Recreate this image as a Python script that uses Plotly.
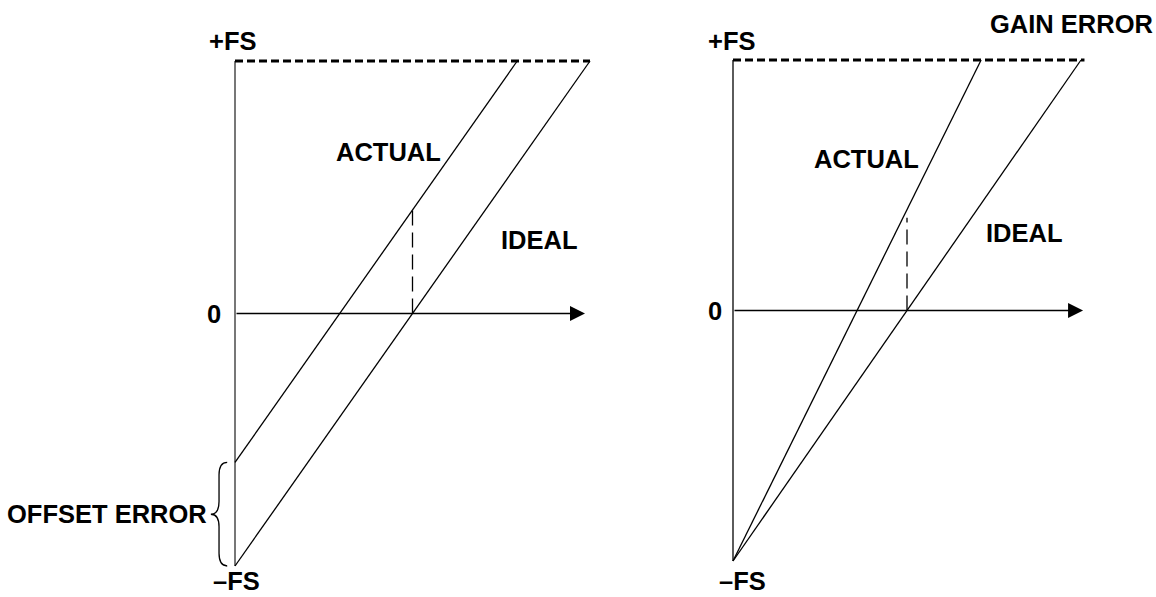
import plotly.graph_objects as go

# ---- data (output in units of full scale, input code normalised 0..1) ----
ideal_code = [0.0, 1.0]
ideal_out = [-1.0, 1.0]

offset_actual_code = [0.0, 0.795]
offset_actual_out = [-0.59, 1.0]

gain_actual_code = [0.0, 0.713]
gain_actual_out = [-1.0, 1.0]

midscale_code = [0.5, 0.5]
offset_marker_out = [0.0, 0.41]
gain_marker_out = [0.0, 0.37]

fs_out = [-1.0, 1.0]
left_top_code = [0.0, 1.0]
right_top_code = [0.0, 1.01]
left_arrow_end = 0.986
right_arrow_end = 1.006

W, H = 1156, 597
split = 620 / W

fig = go.Figure()

def line(x, y, xa, ya, width=1.3, color="black", dash=None):
    fig.add_trace(go.Scatter(x=x, y=y, mode="lines", xaxis=xa, yaxis=ya,
                             line=dict(color=color, width=width, dash=dash),
                             hoverinfo="skip", showlegend=False))

# left panel (offset error)
line([0, 0], fs_out, "x", "y", width=1.6, color="#555")
line(left_top_code, [1, 1], "x", "y", width=3, dash="8px,4px")
line(ideal_code, ideal_out, "x", "y")
line(offset_actual_code, offset_actual_out, "x", "y")
line(midscale_code, offset_marker_out, "x", "y", width=1.3, dash="15px,7px")

# right panel (gain error)
line([0, 0], fs_out, "x2", "y2", width=1.6, color="#333")
line(right_top_code, [1, 1], "x2", "y2", width=3, dash="8px,4px")
line(ideal_code, ideal_out, "x2", "y2")
line(gain_actual_code, gain_actual_out, "x2", "y2")
line(midscale_code, gain_marker_out, "x2", "y2", width=1.3, dash="15px,7px")

# brace for offset error (built from the offset endpoints)
yt, yb = offset_actual_out[0], ideal_out[0]
xr, xc, xl = -0.022, -0.045, -0.068
ym = (yt + yb) / 2
d = 0.05
brace = (f"M {xr},{yt} Q {xc},{yt} {xc},{yt - d} L {xc},{ym + d} "
         f"Q {xc},{ym} {xl},{ym} Q {xc},{ym} {xc},{ym - d} "
         f"L {xc},{yb + d} Q {xc},{yb} {xr},{yb}")
fig.add_shape(type="path", path=brace, xref="x", yref="y",
              line=dict(color="black", width=1.3))

font = dict(family="Liberation Sans, Arial, sans-serif", size=25.5, color="black", weight="bold")

def label(text, x, y, xr_="x", yr_="y"):
    fig.add_annotation(text=text, x=x, y=y, xref=xr_, yref=yr_, showarrow=False,
                       font=font, xanchor="center", yanchor="middle", borderpad=0)

def arrow(xend, xr_, yr_):
    fig.add_annotation(x=xend, y=0, ax=0, ay=0, xref=xr_, yref=yr_, axref=xr_, ayref=yr_,
                       showarrow=True, arrowhead=2, arrowsize=2.0, arrowwidth=1.5,
                       arrowcolor="black", standoff=0, text="")

arrow(left_arrow_end, "x", "y")
arrow(right_arrow_end, "x2", "y2")

label("+FS", -0.006, 1.079)
label("0", -0.059, 0.0)
label("–FS", 0.003, -1.059)
label("ACTUAL", 0.431, 0.640)
label("IDEAL", 0.859, 0.291)
label("OFFSET ERROR", -0.361, -0.794)

label("+FS", -0.003, 1.076, "x2", "y2")
label("GAIN ERROR", 0.974, 1.144, "x2", "y2")
label("0", -0.052, 0.0, "x2", "y2")
label("ACTUAL", 0.385, 0.605, "x2", "y2")
label("IDEAL", 0.839, 0.309, "x2", "y2")
label("–FS", 0.026, -1.080, "x2", "y2")

ax_common = dict(visible=False, fixedrange=True)
fig.update_layout(
    width=W, height=H, margin=dict(l=0, r=0, t=0, b=0),
    paper_bgcolor="white", plot_bgcolor="white", showlegend=False,
    xaxis=dict(domain=[0, split], range=[-235 / 355, (620 - 235) / 355], **ax_common),
    yaxis=dict(domain=[0, 1], range=[(313.5 - 597) / 252.5, 313.5 / 252.5], **ax_common),
    xaxis2=dict(domain=[split, 1], range=[(620 - 733) / 348, (1156 - 733) / 348],
                anchor="y2", **ax_common),
    yaxis2=dict(domain=[0, 1], range=[(310.5 - 597) / 250.5, 310.5 / 250.5],
                anchor="x2", **ax_common),
)

fig.write_html("out.html", config={"displayModeBar": False},
               post_script="document.body.style.margin='0';document.body.style.overflow='hidden';")
